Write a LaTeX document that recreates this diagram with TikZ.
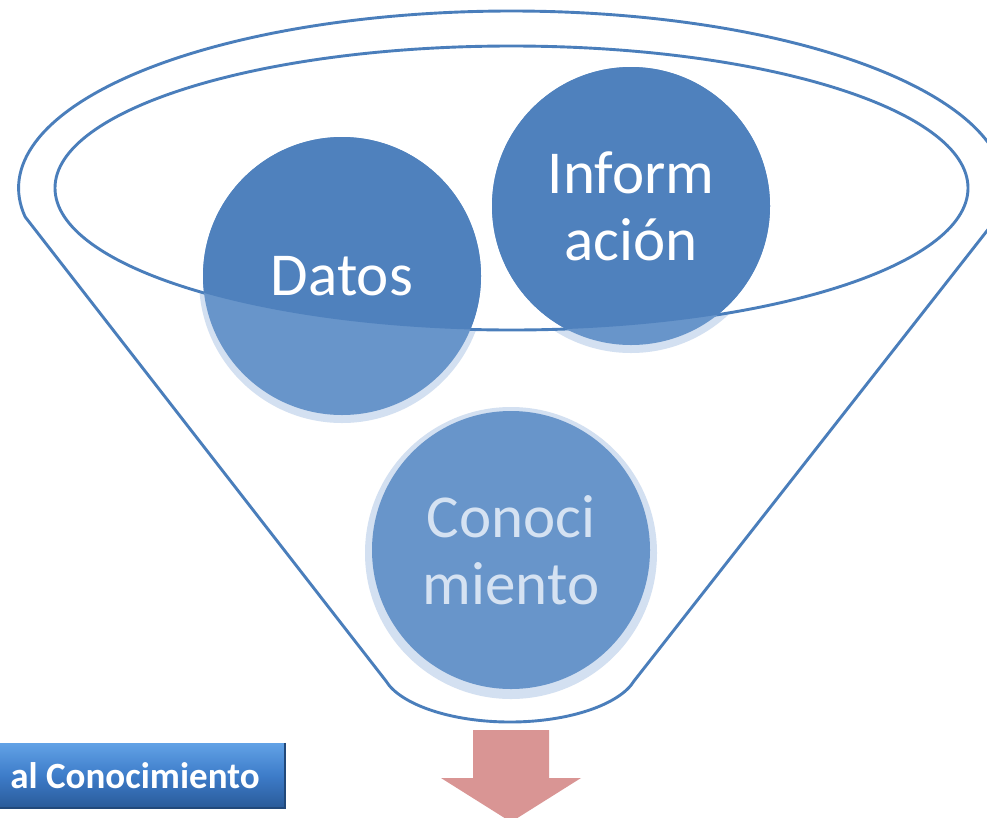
\documentclass[tikz,border=0pt]{standalone}
\usepackage{fontspec}
\setmainfont{Carlito}
\definecolor{dkblue}{HTML}{4F81BD}
\definecolor{ltblue}{HTML}{6895CA}
\definecolor{halo}{HTML}{D3E0F1}
\definecolor{linec}{HTML}{4A7EBB}
\definecolor{txtlt}{HTML}{D5E2F2}
\definecolor{arrowc}{HTML}{D99594}
\definecolor{btntop}{HTML}{62A2E6}
\definecolor{btnmid}{HTML}{3D7CC9}
\definecolor{btnbot}{HTML}{2A5B99}
\begin{document}
\begin{tikzpicture}[x=1pt,y=1pt,
  rim/.style={draw=linec, line width=2.9pt},
  bubble/.style={circle, minimum size=278pt, inner sep=0pt, align=center,
    fill=ltblue, font=\fontsize{61}{67}\selectfont,
    path picture={\fill[dkblue] (ec) ellipse [x radius=456.5, y radius=142];}},
  btn/.style={rectangle, minimum width=300pt, minimum height=65pt, inner sep=0pt,
    top color=btntop, bottom color=btnbot, middle color=btnmid,
    text=white, font=\fontsize{37}{40}\selectfont\bfseries}
]
\path[use as bounding box] (0,0) rectangle (987,-817);
\clip (0,0) rectangle (987,-817);
\fill[white] (0,0) rectangle (987,-817);
\coordinate (ec) at (511.5,-188);
% funnel outline
\draw[rim, line join=round] (997.9,-216.9)
  arc[start angle=-9.4, end angle=189.4, x radius=493, y radius=177]
  -- (386,-681) .. controls (400,-704) and (450,-722) .. (510,-722)
  .. controls (570,-722) and (620,-704) .. (634,-681) -- cycle;
% halos
\fill[halo] (342,-280) circle (143);
\fill[halo] (631,-210) circle (143);
\fill[halo] (511,-553) circle (146);
% inner rim
\fill[white] (ec) ellipse [x radius=456.5, y radius=142];
\draw[rim] (ec) ellipse [x radius=456.5, y radius=142];
% bubbles
\node[bubble, text=white] (datos) at (342,-276) {Datos};
\node[bubble, text=white] (info) at (631,-206) {Inform\\ación};
\node[bubble, text=txtlt, path picture={}] (cono) at (511,-550) {Conoci\\miento};
% down arrow
\fill[arrowc] (473,-730) -- (549,-730) -- (549,-778) -- (581,-778) -- (511,-822)
  -- (441,-778) -- (473,-778) -- cycle;
% button
\node[btn] (label) at (135,-775.5) {al Conocimiento};
\draw[line width=2pt, draw=btnbot!80!black] (label.north east) -- (label.south east) -- (label.south west);
\end{tikzpicture}
\end{document}
